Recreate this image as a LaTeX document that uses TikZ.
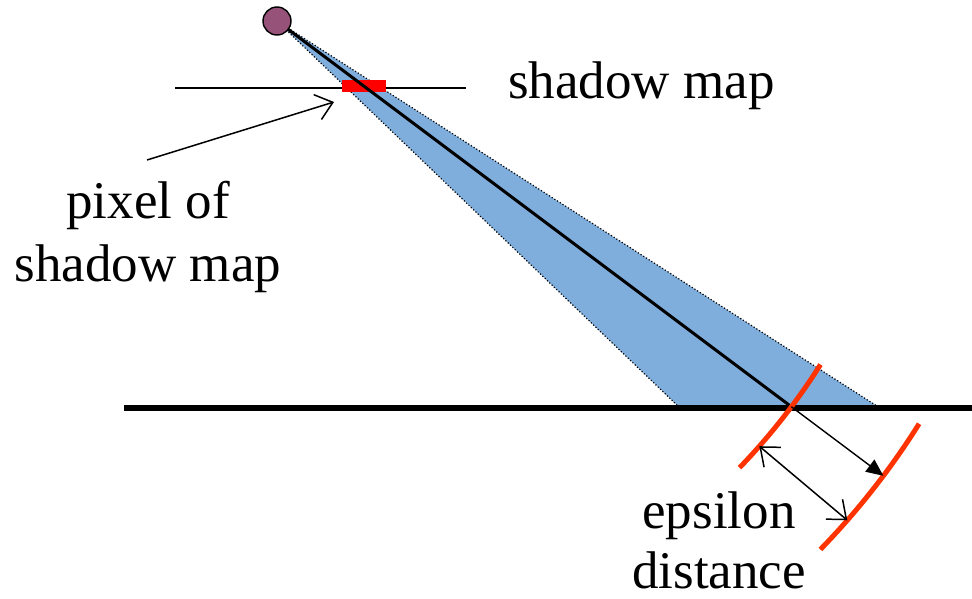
\documentclass[tikz,border=0pt]{standalone}
\usepackage{fontspec}
\setmainfont{Liberation Serif}
\newfontfamily\tnrfont{Liberation Serif}
\usetikzlibrary{arrows.meta,calc}
\definecolor{conefill}{RGB}{127,174,221}
\definecolor{lightfill}{RGB}{150,82,120}
\definecolor{arcred}{RGB}{255,51,0}
\begin{document}
\begin{tikzpicture}[x=1pt,y=-1pt,
  lbl/.style={font=\tnrfont\fontsize{53}{61}\selectfont, inner sep=0pt, align=center},
  redarc/.style={draw=arcred, line width=5pt},
  rayarrow/.style={line width=1.4pt, -{Triangle[length=17pt,width=15pt]}},
  thinarrow/.style={line width=1.5pt, -{Straight Barb[length=16pt,width=26pt,line width=1.5pt]}},
  dblarrow/.style={line width=1.5pt, {Straight Barb[length=16pt,width=26pt,line width=1.5pt]}-{Straight Barb[length=16pt,width=26pt,line width=1.5pt]}}]
\useasboundingbox (0,0) rectangle (972,599);
% key points
\coordinate (L) at (277,21);
\coordinate (CL) at (680,408);
\coordinate (CR) at (880,408);
\coordinate (G0) at (124,408);
\coordinate (G1) at (972,408);
\coordinate (H) at ($(L)+(36.87:643)$);
\coordinate (T) at ($(L)+(36.87:758)$);
\coordinate (A1s) at ($(L)+(32.3:643)$);
\coordinate (A2s) at ($(L)+(32.1:758)$);
\coordinate (D1) at ($(L)+(41.4:643)$);
\coordinate (D2) at ($(L)+(41.2:758)$);
\coordinate (SM0) at (175,88);
\coordinate (SM1) at (466,88);
\coordinate (PA0) at (147,160);
\coordinate (PA1) at (334,102);
% cone
\fill[conefill] (L) -- (CL) -- (CR) -- cycle;
\draw[dotted, line width=1.2pt] (L) -- (CL);
\draw[dotted, line width=1.2pt] (L) -- (CR);
% shadow map plane
\draw[line width=1.4pt] (SM0) -- (SM1);
\node[fill=red, minimum width=44pt, minimum height=12pt, inner sep=0pt] (px) at (364,86) {};
% ray
\draw[line width=3pt] (L) -- (H);
% ground
\draw[line width=6pt] (G0) -- (G1);
% arcs
\draw[redarc] (A1s) arc[start angle=32.3, end angle=44.0, radius=643];
\draw[redarc] (A2s) arc[start angle=32.1, end angle=44.2, radius=758];
% arrows
\draw[rayarrow] (H) -- (T);
\draw[dblarrow] (D1) -- (D2);
\draw[thinarrow] (PA0) -- (PA1);
% light
\node[circle, draw=black, line width=1.4pt, fill=lightfill, minimum size=28pt, inner sep=0pt] (light) at (L) {};
% labels
\node[lbl, anchor=base west] (t1) at (508,99) {shadow map};
\node[lbl, anchor=base] (t2) at (148,218) {pixel of};
\node[lbl, anchor=base] (t3) at (148,281) {shadow map};
\node[lbl, anchor=base] (t4) at (719,528) {epsilon};
\node[lbl, anchor=base] (t5) at (719,588) {distance};
\end{tikzpicture}
\end{document}
